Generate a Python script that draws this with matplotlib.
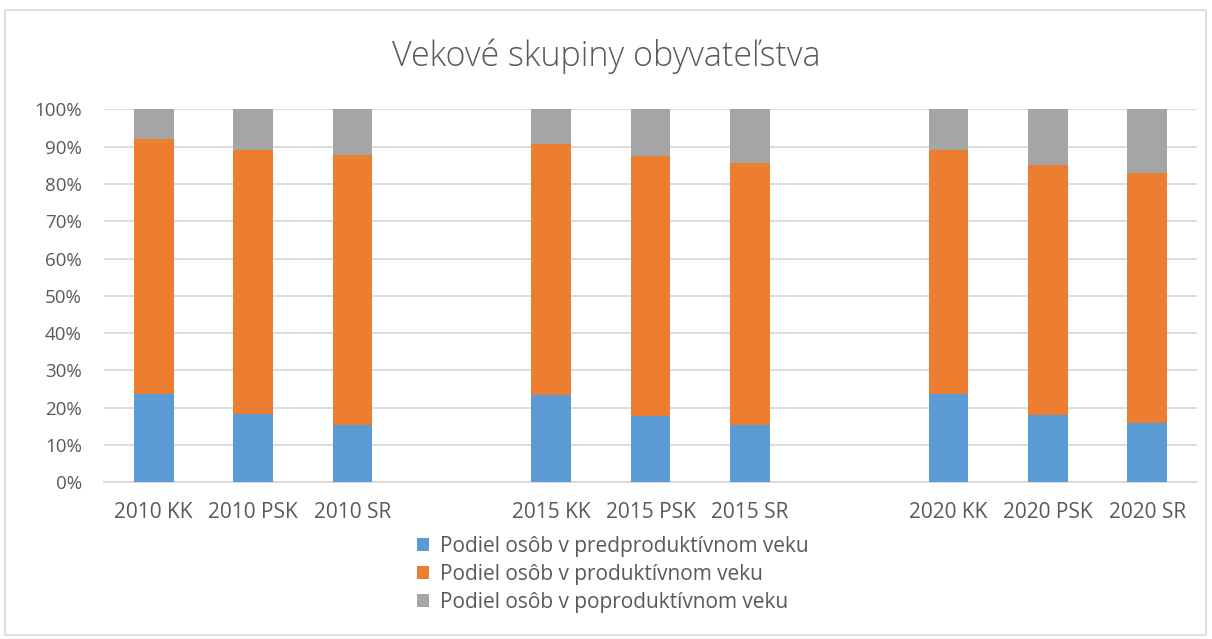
import matplotlib.pyplot as plt
import numpy as np
from matplotlib.patches import Rectangle
from matplotlib.ticker import PercentFormatter

# categories (empty strings are the gaps between year groups)
categories = ["2010 KK", "2010 PSK", "2010 SR", "",
              "2015 KK", "2015 PSK", "2015 SR", "",
              "2020 KK", "2020 PSK", "2020 SR"]

# shares in percent (nan = gap)
pre_productive = [23.6, 18.3, 15.3, np.nan, 23.4, 17.8, 15.3, np.nan, 23.6, 18.0, 15.8]
productive = [68.4, 70.8, 72.4, np.nan, 67.4, 69.6, 70.2, np.nan, 65.6, 67.1, 67.1]
post_productive = [8.0, 10.9, 12.3, np.nan, 9.2, 12.6, 14.5, np.nan, 10.8, 14.9, 17.1]

series_names = ["Podiel osôb v predproduktívnom veku",
                "Podiel osôb v produktívnom veku",
                "Podiel osôb v poproduktívnom veku"]
colors = ["#5b9bd5", "#ed7d31", "#a5a5a5"]

plt.rcParams['font.family'] = ['Open Sans', 'DejaVu Sans']
text_col = "#595959"

fig = plt.figure(figsize=(12.12, 6.39), dpi=100)
ax = fig.add_axes([0.0858, 0.2452, 0.9018, 0.5836])

x = np.arange(len(categories))
pre = np.array(pre_productive)
prod = np.array(productive)
post = np.array(post_productive)

ax.bar(x, pre, width=0.4, color=colors[0], label=series_names[0], zorder=3)
ax.bar(x, prod, width=0.4, bottom=pre, color=colors[1], label=series_names[1], zorder=3)
ax.bar(x, post, width=0.4, bottom=pre + prod, color=colors[2], label=series_names[2], zorder=3)

ax.set_xlim(-0.5, len(categories) - 0.5)
ax.set_ylim(0, 100)
ax.set_yticks(np.arange(0, 101, 10))
ax.yaxis.set_major_formatter(PercentFormatter(decimals=0))
ax.set_xticks(x)
ax.set_xticklabels(categories)
ax.grid(axis='y', color="#d9d9d9", linewidth=1.3, zorder=0)
for s in ["top", "right", "left"]:
    ax.spines[s].set_visible(False)
ax.spines["bottom"].set_color("#d9d9d9")
ax.spines["bottom"].set_linewidth(1.3)
ax.tick_params(axis='both', length=0, colors=text_col)
ax.tick_params(axis='x', pad=14, labelsize=15)
ax.tick_params(axis='y', pad=16, labelsize=13.5)

fig.text(0.5, 0.912, "Vekové skupiny obyvateľstva", ha='center', va='center',
         fontsize=24.5, color=text_col, fontweight='light')

leg = fig.legend(loc='upper left', bbox_to_anchor=(0.337, 0.175), ncol=1, frameon=False,
                 fontsize=15, handlelength=0.6, handleheight=0.6, handletextpad=0.5,
                 labelspacing=0.35, borderaxespad=0)
for t in leg.get_texts():
    t.set_color(text_col)

fig.patches.append(Rectangle((0.004, 0.006), 0.991, 0.978, transform=fig.transFigure,
                             fill=False, edgecolor="#d9d9d9", linewidth=1.2))

fig.savefig("out.png", dpi=100)
